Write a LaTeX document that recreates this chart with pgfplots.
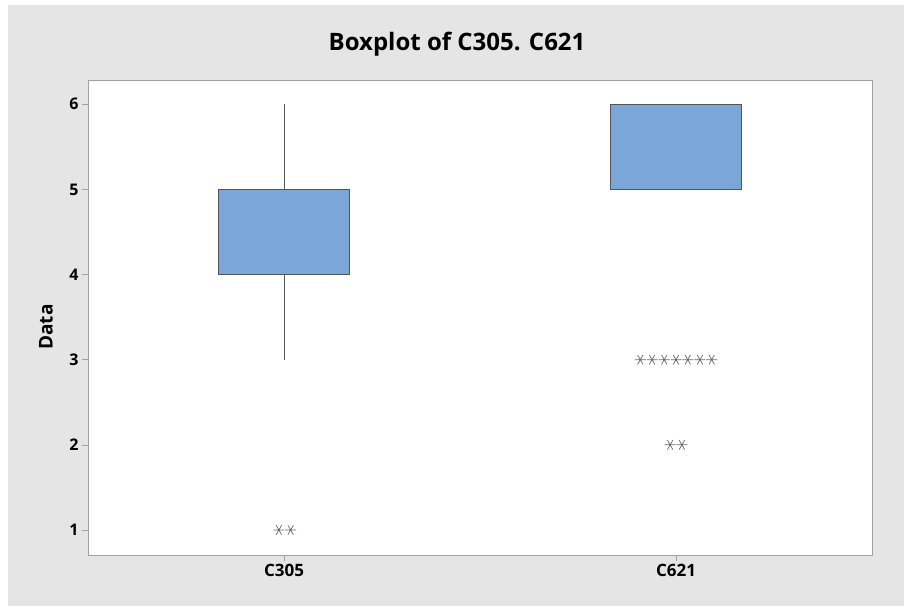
\documentclass[border=0pt]{standalone}
\usepackage{pgfplots}
\pgfplotsset{compat=1.18}
\usepackage{fontspec}
\setmainfont{Open Sans}

\definecolor{panelgray}{HTML}{E5E5E5}
\definecolor{framegray}{HTML}{A0A0A0}
\definecolor{boxblue}{HTML}{7BA7D8}
\definecolor{boxedge}{HTML}{555555}
\definecolor{stargray}{HTML}{6A6A6A}

\begin{document}
\begin{tikzpicture}
\useasboundingbox (0,0) rectangle (904pt,606pt);
\fill[white] (0,0) rectangle (904pt,606pt);
\fill[panelgray] (8pt,0) rectangle (904pt,601pt);
\begin{axis}[
  at={(88pt,51pt)}, anchor=south west,
  scale only axis, width=784pt, height=475pt,
  xmin=0.5, xmax=2.5, ymin=0.706, ymax=6.285,
  xtick={1,2}, xticklabels={C305,C621},
  ytick={1,2,3,4,5,6},
  tick pos=left, tick align=outside,
  major tick length=6pt,
  every tick/.style={framegray, line width=0.6pt},
  axis line style={framegray, line width=0.8pt},
  axis background/.style={fill=white},
  /pgf/number format/assume math mode=true,
  yticklabel style={font=\bfseries\fontsize{16}{16}\selectfont, text=black},
  xticklabel style={font=\bfseries\fontsize{17}{17}\selectfont, text=black},
  title={Boxplot of C305. C621},
  title style={font=\bfseries\fontsize{24}{24}\selectfont, anchor=base,
    at={(axis description cs:0.4707,1.0505)}},
  ylabel={Data},
  ylabel style={font=\bfseries\fontsize{19}{19}\selectfont, anchor=center,
    at={(axis description cs:-0.0536,0.48)}},
  clip=false,
]
% whiskers
\addplot[boxedge, line width=0.8pt] coordinates {(1,3) (1,4)};
\addplot[boxedge, line width=0.8pt] coordinates {(1,5) (1,6)};
% C305 box: quartiles 4 and 5
\addplot[fill=boxblue, draw=boxedge, line width=0.8pt]
  coordinates {(0.833,4) (1.167,4) (1.167,5) (0.833,5)} --cycle;
% C621 box: quartiles 5 and 6
\addplot[fill=boxblue, draw=boxedge, line width=0.8pt]
  coordinates {(1.833,5) (2.167,5) (2.167,6) (1.833,6)} --cycle;
% outliers, spread sideways where values repeat
\addplot[only marks, mark=asterisk, mark size=5.5pt,
  mark options={rotate=90, draw=stargray, line width=0.7pt}]
  coordinates {(0.987,1) (1.017,1)
    (1.909,3) (1.939,3) (1.970,3) (2.000,3) (2.030,3) (2.061,3) (2.091,3)
    (1.985,2) (2.015,2)};
\end{axis}
\end{tikzpicture}
\end{document}
